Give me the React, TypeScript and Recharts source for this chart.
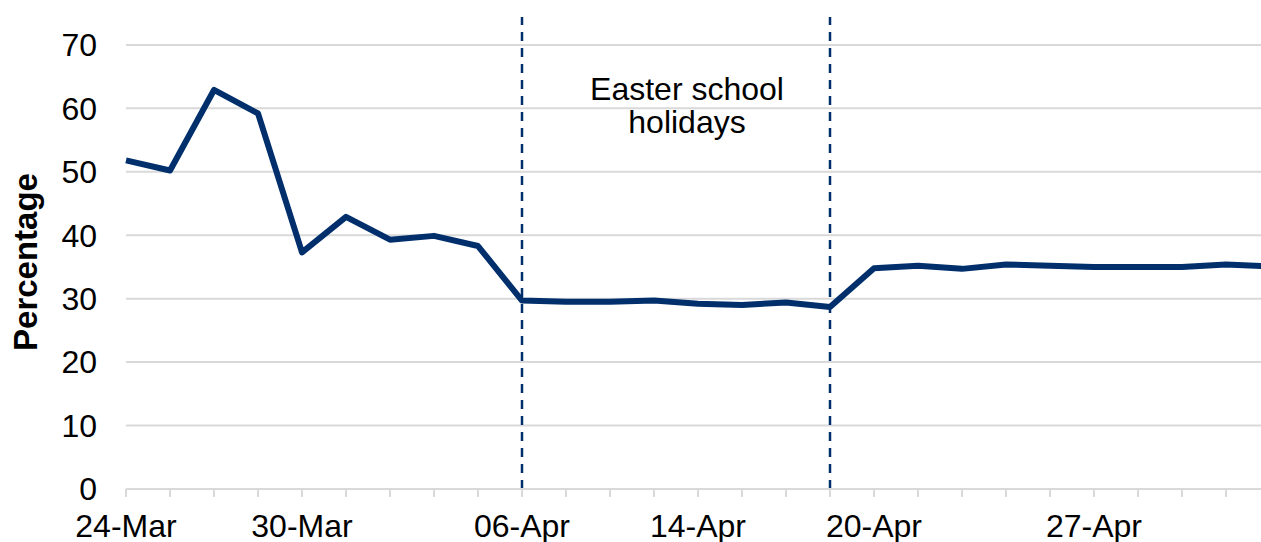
import React from "react";
import {
  LineChart,
  Line,
  XAxis,
  YAxis,
  ReferenceLine,
  ReferenceArea
} from "recharts";

// weekdays, Easter bank holidays (10-Apr, 13-Apr) left out
const dates = [
  "24-Mar", "25-Mar", "26-Mar", "27-Mar",
  "30-Mar", "31-Mar", "01-Apr", "02-Apr", "03-Apr",
  "06-Apr", "07-Apr", "08-Apr", "09-Apr",
  "14-Apr", "15-Apr", "16-Apr", "17-Apr",
  "20-Apr", "21-Apr", "22-Apr", "23-Apr", "24-Apr",
  "27-Apr", "28-Apr", "29-Apr", "30-Apr", "01-May"
];

const percentage = [
  51.8, 50.2, 62.9, 59.2,
  37.3, 42.9, 39.3, 39.9, 38.3,
  29.7, 29.5, 29.5, 29.7,
  29.2, 29.0, 29.4, 28.7,
  34.8, 35.2, 34.7, 35.4, 35.2,
  35.0, 35.0, 35.0, 35.4, 35.1
];

const shownLabels = ["24-Mar", "30-Mar", "06-Apr", "14-Apr", "20-Apr", "27-Apr"];
const yTicks = [0, 10, 20, 30, 40, 50, 60, 70];
const holidayStart = "06-Apr";
const holidayEnd = "17-Apr";
const holidayText = ["Easter school", "holidays"];

const data = dates.map((date, i) => ({ date, value: percentage[i] }));

const FONT = "'Liberation Sans', Arial, sans-serif";
const NAVY = "#002F6C";
const GRID = "#D9D9D9";

const XTick = (props: any) => {
  const { x, y, payload } = props;
  if (!shownLabels.includes(payload.value)) return <g />;
  return (
    <text x={x} y={y} dy={23} textAnchor="middle" fontSize={32} fontFamily={FONT} fill="#000">
      {payload.value}
    </text>
  );
};

const HolidayLabel = (props: any) => {
  const vb = props.viewBox;
  if (!vb) return null;
  const cx = vb.x + vb.width / 2 + 11;
  return (
    <g>
      {holidayText.map((t, i) => (
        <text key={t} x={cx} y={100 + i * 33} textAnchor="middle" fontSize={32} fontFamily={FONT} fill="#000">
          {t}
        </text>
      ))}
    </g>
  );
};

const YLabel = (props: any) => {
  const vb = props.viewBox;
  if (!vb) return null;
  const x = vb.x + 37;
  const y = vb.y + vb.height / 2 + 9;
  return (
    <text
      x={x}
      y={y}
      transform={`rotate(-90, ${x}, ${y})`}
      textAnchor="middle"
      fontSize={33}
      fontWeight="bold"
      fontFamily={FONT}
      fill="#000"
    >
      Percentage
    </text>
  );
};

export default function App() {
  return (
    <div
      style={{
        position: "absolute",
        left: 0,
        top: 0,
        width: 1261,
        height: 542,
        overflow: "hidden",
        background: "#fff"
      }}
    >
      <LineChart
        width={1275}
        height={542}
        data={data}
        margin={{ top: 17, right: 5, bottom: 0, left: 0 }}
      >
        {/* gridlines only at the labelled ticks */}
        {yTicks.map((t) => (
          <ReferenceLine key={t} y={t} stroke={GRID} strokeWidth={2} />
        ))}
        <XAxis
          dataKey="date"
          type="category"
          scale="point"
          interval={0}
          height={53}
          tickSize={8}
          tickMargin={17}
          axisLine={{ stroke: GRID, strokeWidth: 2 }}
          tickLine={{ stroke: GRID, strokeWidth: 2 }}
          tick={<XTick />}
        />
        <YAxis
          type="number"
          domain={[0, 74.4]}
          ticks={yTicks}
          width={126}
          axisLine={false}
          tickLine={false}
          tickSize={0}
          tickMargin={29}
          tick={{ fontSize: 32, fontFamily: FONT, fill: "#000" }}
          label={<YLabel />}
        />
        <ReferenceArea
          x1={holidayStart}
          x2={holidayEnd}
          fill="none"
          fillOpacity={0}
          stroke="none"
          label={<HolidayLabel />}
        />
        <ReferenceLine x={holidayStart} stroke={NAVY} strokeWidth={2.5} strokeDasharray="9 7" />
        <ReferenceLine x={holidayEnd} stroke={NAVY} strokeWidth={2.5} strokeDasharray="9 7" />
        <Line
          type="linear"
          dataKey="value"
          stroke={NAVY}
          strokeWidth={6}
          strokeLinejoin="round"
          dot={false}
          activeDot={false}
          isAnimationActive={false}
        />
      </LineChart>
    </div>
  );
}
